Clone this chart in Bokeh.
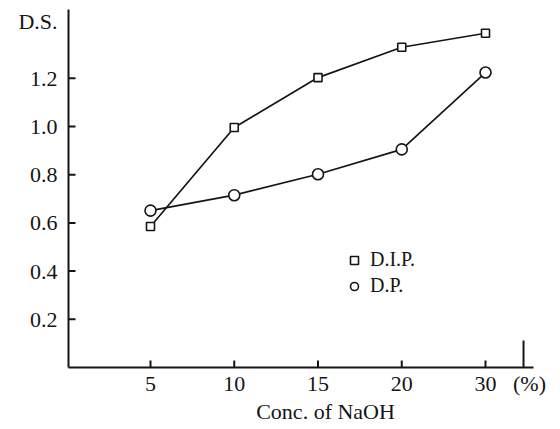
import math
from bokeh.plotting import figure
from bokeh.models import Range1d, FixedTicker, Legend, LegendItem, PrintfTickFormatter, LinearAxis
from bokeh.embed import file_html
from bokeh.resources import INLINE

# ---- data ----
conc_labels = ["5", "10", "15", "20", "30"]          # Conc. of NaOH (%)
dip_ds = [0.585, 0.996, 1.203, 1.329, 1.387]         # D.I.P. degree of substitution
dp_ds = [0.651, 0.715, 0.802, 0.905, 1.224]          # D.P. degree of substitution
y_ticks = [0.2, 0.4, 0.6, 0.8, 1.0, 1.2]
x_pos = list(range(1, len(conc_labels) + 1))

# ---- axis geometry (in axis units) ----
X_START, X_END = 0.021, 5.573
Y_START, Y_END = 0.0, 1.4855
AXIS_END_MARK = 5.454      # tall end tick of x axis
PCT_LABEL_X = 5.525        # "(%)" unit label position
DS_LABEL_Y = 1.434         # "D.S." axis title position
CONC_LABEL_X = 3.09        # "Conc. of NaOH" position

SERIF = "Liberation Serif"
INK = "#151515"

p = figure(width=552, height=428, output_backend="svg", toolbar_location=None,
           x_range=Range1d(X_START, X_END), y_range=Range1d(Y_START, Y_END),
           min_border_left=68, min_border_right=19, min_border_top=9, min_border_bottom=61)
p.xgrid.visible = False
p.ygrid.visible = False
p.outline_line_color = None
p.background_fill_color = "white"
p.border_fill_color = "white"


def style_axis(ax):
    ax.major_tick_line_color = None
    ax.minor_tick_line_color = None
    ax.major_tick_in = 0
    ax.major_tick_out = 0
    ax.major_label_text_font = SERIF
    ax.major_label_text_font_size = "22px"
    ax.major_label_text_color = INK


xa = p.xaxis[0]
style_axis(xa)
xa.axis_line_width = 2
xa.axis_line_color = INK
xa.ticker = FixedTicker(ticks=x_pos + [PCT_LABEL_X])
overrides = {x: lab for x, lab in zip(x_pos, conc_labels)}
overrides[PCT_LABEL_X] = "(%)"
xa.major_label_overrides = overrides
xa.major_label_standoff = 3

ya = p.yaxis[0]
style_axis(ya)
ya.axis_line_width = 2
ya.axis_line_color = INK
ya.ticker = FixedTicker(ticks=y_ticks + [DS_LABEL_Y])
ya.formatter = PrintfTickFormatter(format="%.1f")
ya.major_label_overrides = {DS_LABEL_Y: "D.S."}
ya.major_label_standoff = 11

conc_axis = LinearAxis(ticker=FixedTicker(ticks=[CONC_LABEL_X]),
                       major_label_overrides={CONC_LABEL_X: "Conc. of NaOH"},
                       axis_line_color=None)
style_axis(conc_axis)
conc_axis.major_label_standoff = 0
p.add_layout(conc_axis, "below")

# inward tick marks (drawn as short screen-length rays)
p.ray(x=x_pos, y=[Y_START] * len(x_pos), length=7, length_units="screen",
      angle=math.pi / 2, line_color=INK, line_width=2)
p.ray(x=[X_START] * len(y_ticks), y=y_ticks, length=7, length_units="screen",
      angle=0, line_color=INK, line_width=2)
p.ray(x=[AXIS_END_MARK], y=[Y_START], length=27, length_units="screen",
      angle=math.pi / 2, line_color=INK, line_width=2)

# series
p.line(x_pos, dip_ds, line_color=INK, line_width=1.7)
p.line(x_pos, dp_ds, line_color=INK, line_width=1.7)
r_sq = p.scatter(x_pos, dip_ds, marker="square", size=8, fill_color="white",
                 line_color=INK, line_width=1.6)
r_ci = p.scatter(x_pos, dp_ds, marker="circle", size=11, fill_color="white",
                 line_color=INK, line_width=1.6)

legend = Legend(items=[LegendItem(label="D.I.P.", renderers=[r_sq]),
                       LegendItem(label="D.P.", renderers=[r_ci])],
                location=(276, 70), padding=0, margin=0, spacing=3,
                glyph_width=20, glyph_height=20, label_height=20, label_standoff=6,
                label_text_font=SERIF, label_text_font_size="20px", label_text_color=INK,
                border_line_color=None, background_fill_alpha=0)
p.add_layout(legend)

open("out.html", "w").write(file_html(p, INLINE))
